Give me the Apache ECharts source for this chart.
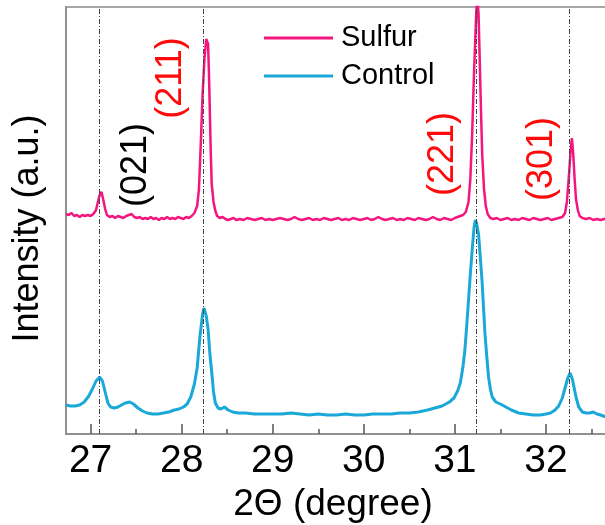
<!DOCTYPE html>
<html>
<head>
<meta charset="utf-8">
<script src="https://cdn.jsdelivr.net/npm/echarts@6/dist/echarts.min.js"></script>
<style>html,body{margin:0;padding:0;background:#fff}#c{width:605px;height:525px}</style>
</head>
<body>
<div id="c"></div>
<script>
// ---- data ----
var seriesNames = ['Sulfur', 'Control'];
var xTicks = [27, 28, 29, 30, 31, 32];
var xMinorTicks = [27.5, 28.5, 29.5, 30.5, 31.5, 32.5];
var refLines = [27.09, 28.24, 31.23, 32.26];
var peakLabels = ['(021)', '(211)', '(221)', '(301)'];

var sulfur = [
[26.73,220],[26.76,219],[26.79,221],[26.82,218],[26.85,219],[26.88,217],[26.91,219],[26.94,218],[26.97,219],[27.00,218],
[27.03,220],[27.06,224],[27.08,232],[27.10,239],[27.12,242],[27.14,234],[27.16,225],[27.18,219],[27.21,217],[27.24,218],
[27.27,216],[27.30,218],[27.33,217],[27.36,216],[27.39,218],[27.42,219],[27.45,220],[27.48,217],[27.51,216],[27.54,217],
[27.57,215],[27.60,216],[27.63,215],[27.66,217],[27.69,215],[27.72,216],[27.75,214],[27.78,216],[27.81,215],[27.84,217],
[27.87,215],[27.90,216],[27.93,215],[27.96,217],[27.99,216],[28.02,215],[28.05,217],[28.08,216],[28.11,218],[28.14,221],
[28.17,228],[28.19,245],[28.21,290],[28.23,340],[28.25,375],[28.27,395],[28.28,397],[28.29,390],[28.30,360],[28.31,320],
[28.32,280],[28.33,250],[28.35,232],[28.37,223],[28.39,218],[28.42,216],[28.45,217],[28.48,215],[28.51,214],[28.54,215],
[28.57,216],[28.60,214],[28.64,215],[28.68,214],[28.72,216],[28.76,215],[28.80,214],[28.84,215],[28.88,216],[28.92,214],
[28.96,215],[29.00,214],[29.04,215],[29.08,216],[29.12,215],[29.16,214],[29.20,215],[29.24,217],[29.28,215],[29.32,214],
[29.36,215],[29.40,216],[29.44,214],[29.48,215],[29.52,214],[29.56,216],[29.60,215],[29.64,214],[29.68,215],[29.72,216],
[29.76,214],[29.80,215],[29.84,214],[29.88,216],[29.92,215],[29.96,214],[30.00,215],[30.04,216],[30.08,214],[30.12,215],
[30.16,217],[30.20,215],[30.24,214],[30.28,215],[30.32,216],[30.36,214],[30.40,215],[30.44,214],[30.48,216],[30.52,215],
[30.56,214],[30.60,216],[30.64,215],[30.68,214],[30.72,215],[30.76,217],[30.80,215],[30.84,214],[30.88,216],[30.92,215],
[30.96,214],[31.00,216],[31.03,217],[31.06,218],[31.09,219],[31.12,222],[31.15,232],[31.17,255],[31.19,300],[31.21,360],
[31.23,410],[31.245,440],[31.26,420],[31.27,385],[31.285,330],[31.30,280],[31.32,245],[31.34,228],[31.36,220],[31.39,216],
[31.42,215],[31.46,216],[31.50,214],[31.54,215],[31.58,216],[31.62,214],[31.66,215],[31.70,214],[31.74,216],[31.78,215],
[31.82,214],[31.86,216],[31.90,215],[31.94,214],[31.98,215],[32.02,216],[32.06,214],[32.10,215],[32.14,216],[32.18,217],
[32.21,221],[32.23,232],[32.25,255],[32.27,282],[32.285,296],[32.30,280],[32.315,255],[32.33,235],[32.35,224],[32.37,218],
[32.40,216],[32.44,215],[32.48,216],[32.52,214],[32.56,215],[32.60,214],[32.64,215],[32.68,216],[32.72,215],[32.80,215]
];

var control = [
[26.73,29],[26.78,28],[26.83,28],[26.88,29],[26.93,32],[26.98,38],[27.02,45],[27.06,53],[27.10,57],[27.13,53],
[27.16,42],[27.19,31],[27.22,27],[27.26,26],[27.30,27],[27.34,29],[27.38,31],[27.43,32],[27.47,30],[27.52,26],
[27.57,23],[27.62,21],[27.68,20],[27.74,20],[27.80,21],[27.86,22],[27.92,24],[27.97,25],[28.02,27],[28.06,30],
[28.10,37],[28.14,50],[28.17,66],[28.20,97],[28.23,120],[28.245,126],[28.27,118],[28.29,105],[28.31,80],[28.33,62],
[28.35,42],[28.37,31],[28.40,26],[28.43,25],[28.47,27],[28.51,24],[28.56,22],[28.62,21],[28.70,21],[28.80,20],
[28.90,20],[29.00,20],[29.10,20],[29.20,21],[29.30,20],[29.40,19],[29.50,20],[29.60,19],[29.70,19],[29.80,20],
[29.90,19],[30.00,19],[30.10,20],[30.20,20],[30.30,20],[30.40,21],[30.50,21],[30.60,22],[30.70,24],[30.78,26],
[30.86,28],[30.94,32],[30.99,36],[31.03,43],[31.06,51],[31.09,68],[31.11,84],[31.13,108],[31.15,134],[31.17,160],
[31.19,184],[31.21,206],[31.225,214],[31.24,210],[31.26,200],[31.28,176],[31.30,151],[31.315,126],[31.33,101],[31.35,78],
[31.37,57],[31.39,45],[31.41,37],[31.45,32],[31.50,30],[31.56,27],[31.62,24],[31.70,21],[31.78,20],[31.86,19],
[31.94,19],[32.00,20],[32.05,21],[32.10,24],[32.14,28],[32.18,36],[32.21,46],[32.24,56],[32.265,61],[32.29,55],
[32.31,46],[32.33,37],[32.36,27],[32.40,22],[32.44,21],[32.48,21],[32.52,22],[32.56,20],[32.60,19],[32.66,17],
[32.72,17],[32.80,17]
];

// ---- chart ----
var FONT = '"Liberation Sans", Arial, sans-serif';
var pink = '#f5157f', blue = '#1aa8d9', red = '#fe0a0a';
var chart = echarts.init(document.getElementById('c'), null, {renderer: 'canvas'});

var labelPos = [[27.50, 269, '#000'], [27.88, 356, red], [30.87, 280, red], [31.96, 275, red]];
var markPts = peakLabels.map(function (t, i) {
  return {
    coord: [labelPos[i][0], labelPos[i][1]],
    symbol: 'rect', symbolSize: 1, itemStyle: {color: 'transparent'},
    label: {show: true, position: 'inside', rotate: 90, formatter: t, color: labelPos[i][2],
            fontSize: 36, fontFamily: FONT, align: 'center', verticalAlign: 'middle'}
  };
});

chart.setOption({
  animation: false,
  backgroundColor: '#fff',
  grid: {left: 66, top: 7, width: 571, bottom: 91, show: true, borderColor: '#8a8a8a', borderWidth: 1.5,
         backgroundColor: 'transparent', containLabel: false, outerBoundsMode: 'none'},
  legend: {
    left: 264, top: 19, padding: 0, orient: 'vertical', itemGap: 0, icon: 'rect', itemWidth: 69, itemHeight: 3,
    data: seriesNames,
    textStyle: {fontSize: 29, fontFamily: FONT, color: '#000', lineHeight: 38, padding: [0, 0, 0, 3]}
  },
  xAxis: [{
    type: 'value', min: 26.73, max: 33.0,
    name: '2\u0398 (degree)', nameLocation: 'middle', nameGap: 48,
    nameTextStyle: {fontSize: 37, fontFamily: FONT, color: '#000', padding: [0, 37, 0, 0]},
    axisLine: {show: true, lineStyle: {color: '#8a8a8a', width: 1.5}},
    axisTick: {show: true, inside: true, length: 10, customValues: xTicks, lineStyle: {color: '#555', width: 1.5}},
    axisLabel: {show: true, customValues: xTicks, fontSize: 39, fontFamily: FONT, color: '#000', margin: 8},
    splitLine: {show: false}
  }, {
    type: 'value', min: 26.73, max: 33.0, position: 'bottom', gridIndex: 0,
    axisLine: {show: false},
    axisTick: {show: true, inside: true, length: 5, customValues: xMinorTicks, lineStyle: {color: '#555', width: 1.5}},
    axisLabel: {show: false},
    splitLine: {show: false}
  }],
  yAxis: {
    type: 'value', min: 0, max: 427,
    name: 'Intensity (a.u.)', nameLocation: 'middle', nameGap: 20,
    nameTextStyle: {fontSize: 36, fontFamily: FONT, color: '#000', padding: [0, 16, 0, 0]},
    axisLine: {show: true, lineStyle: {color: '#8a8a8a', width: 1.5}},
    axisTick: {show: false}, axisLabel: {show: false}, splitLine: {show: false}
  },
  series: [{
    name: seriesNames[0], type: 'line', data: sulfur, showSymbol: false, symbol: 'none',
    lineStyle: {color: pink, width: 2.5}, itemStyle: {color: pink}, z: 3,
    markPoint: {data: markPts, animation: false, silent: true}
  }, {
    name: seriesNames[1], type: 'line', data: control, showSymbol: false, symbol: 'none',
    lineStyle: {color: blue, width: 3}, itemStyle: {color: blue}, z: 3,
    markLine: {
      silent: true, symbol: ['none', 'none'], label: {show: false},
      lineStyle: {color: '#444', width: 1, type: [5, 2, 1, 2]},
      data: refLines.map(function (v) { return {xAxis: v}; })
    }
  }]
});
</script>
</body>
</html>
